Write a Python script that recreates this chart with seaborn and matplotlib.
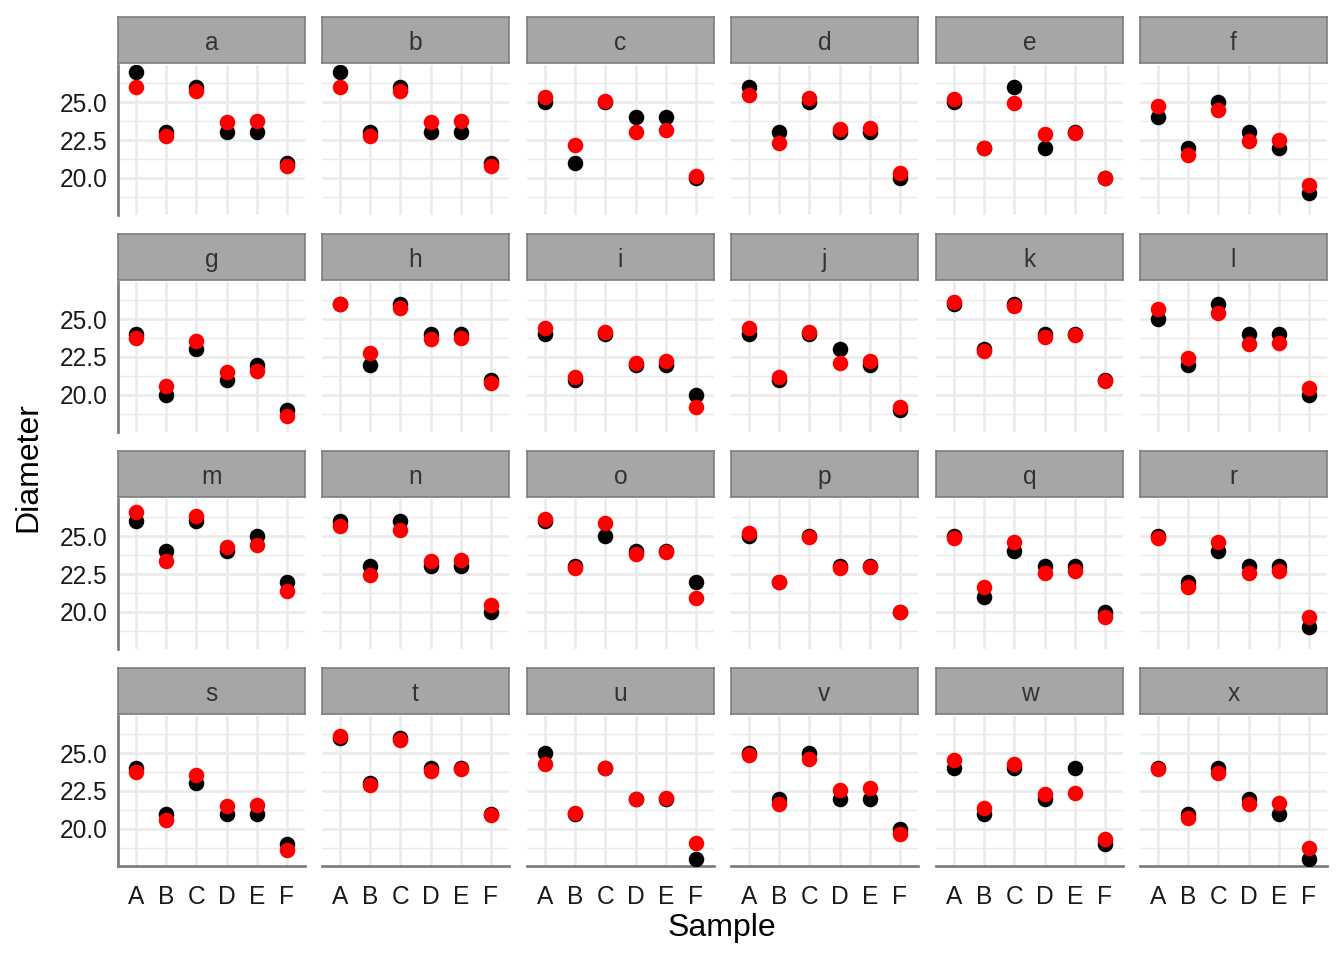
import numpy as np
import pandas as pd
import matplotlib
matplotlib.use('Agg')
import matplotlib.pyplot as plt
import seaborn as sns

# ── Data ─────────────────────────────────────────────────────────────────────
plates  = list('abcdefghijklmnopqrstuvwx')
samples = ['A', 'B', 'C', 'D', 'E', 'F']

# observed diameter per plate (samples A..F)
observed = [
    [27, 23, 26, 23, 23, 21], [27, 23, 26, 23, 23, 21], [25, 21, 25, 24, 24, 20],
    [26, 23, 25, 23, 23, 20], [25, 22, 26, 22, 23, 20], [24, 22, 25, 23, 22, 19],
    [24, 20, 23, 21, 22, 19], [26, 22, 26, 24, 24, 21], [24, 21, 24, 22, 22, 20],
    [24, 21, 24, 23, 22, 19], [26, 23, 26, 24, 24, 21], [25, 22, 26, 24, 24, 20],
    [26, 24, 26, 24, 25, 22], [26, 23, 26, 23, 23, 20], [26, 23, 25, 24, 24, 22],
    [25, 22, 25, 23, 23, 20], [25, 21, 24, 23, 23, 20], [25, 22, 24, 23, 23, 19],
    [24, 21, 23, 21, 21, 19], [26, 23, 26, 24, 24, 21], [25, 21, 24, 22, 22, 18],
    [25, 22, 25, 22, 22, 20], [24, 21, 24, 22, 24, 19], [24, 21, 24, 22, 21, 18],
]

# fitted values (red)
fitted = [
    [25.97, 22.77, 25.72, 23.68, 23.77, 20.77], [25.97, 22.77, 25.72, 23.68, 23.77, 20.77],
    [25.34, 22.14, 25.09, 23.05, 23.14, 20.14], [25.50, 22.30, 25.25, 23.21, 23.30, 20.30],
    [25.19, 21.99, 24.94, 22.90, 22.99, 19.99], [24.72, 21.52, 24.47, 22.43, 22.52, 19.52],
    [23.78, 20.58, 23.53, 21.49, 21.58, 18.58], [25.97, 22.77, 25.72, 23.68, 23.77, 20.77],
    [24.41, 21.21, 24.16, 22.12, 22.21, 19.21], [24.41, 21.21, 24.16, 22.12, 22.21, 19.21],
    [26.12, 22.92, 25.87, 23.83, 23.92, 20.92], [25.65, 22.45, 25.40, 23.36, 23.45, 20.45],
    [26.59, 23.39, 26.34, 24.30, 24.39, 21.39], [25.65, 22.45, 25.40, 23.36, 23.45, 20.45],
    [26.12, 22.92, 25.87, 23.83, 23.92, 20.92], [25.19, 21.99, 24.94, 22.90, 22.99, 19.99],
    [24.87, 21.67, 24.62, 22.58, 22.67, 19.67], [24.87, 21.67, 24.62, 22.58, 22.67, 19.67],
    [23.78, 20.58, 23.53, 21.49, 21.58, 18.58], [26.12, 22.92, 25.87, 23.83, 23.92, 20.92],
    [24.25, 21.05, 24.00, 21.96, 22.05, 19.05], [24.87, 21.67, 24.62, 22.58, 22.67, 19.67],
    [24.56, 21.36, 24.31, 22.27, 22.36, 19.36], [23.94, 20.74, 23.69, 21.65, 21.74, 18.74],
]

y_ticks  = [20.0, 22.5, 25.0]
y_minor  = [18.75, 21.25, 23.75, 26.25]

rows = []
for p, obs, fit in zip(plates, observed, fitted):
    for s, o, f in zip(samples, obs, fit):
        rows.append({'plate': p, 'sample': s, 'diameter': o, 'fitted': f})
df = pd.DataFrame(rows)

# ── Layout (pixels in a 1344x960 canvas) ─────────────────────────────────────
W, H = 1344, 960
col_x  = [118, 322, 527, 731, 936, 1140]
col_w  = 187
row_y  = [17, 234, 451, 668]     # strip tops
strip_h = 46
panel_h = 150

GRID  = '#EBEBEB'
AXIS  = '#7a7a7a'
FONT  = ['Liberation Sans', 'DejaVu Sans']

sns.set_theme(style='white')
plt.rcParams['font.family'] = FONT

fig = plt.figure(figsize=(W / 192, H / 192), dpi=192)


def box(x, y, w, h):
    return [x / W, 1 - (y + h) / H, w / W, h / H]


for i, p in enumerate(plates):
    r, c = divmod(i, 6)
    x0 = col_x[c]
    ys = row_y[r]

    # strip
    sax = fig.add_axes(box(x0, ys, col_w, strip_h))
    sax.set_facecolor('#A6A6A6')
    sax.set_xticks([]); sax.set_yticks([])
    for sp in sax.spines.values():
        sp.set_visible(True)
        sp.set_color(AXIS)
        sp.set_linewidth(0.6)
    sax.text(0.5, 0.44, p, ha='center', va='center', fontsize=9.2,
             color='#333333', transform=sax.transAxes)

    # panel
    ax = fig.add_axes(box(x0, ys + strip_h + 2, col_w, panel_h))
    sub = df[df['plate'] == p]
    sns.scatterplot(data=sub, x='sample', y='diameter', ax=ax, color='black',
                    s=34, linewidth=0, zorder=3)
    sns.scatterplot(data=sub, x='sample', y='fitted', ax=ax, color='red',
                    s=34, linewidth=0, zorder=4)
    ax.set_xlim(-0.6, 5.6)
    ax.set_ylim(17.55, 27.45)
    ax.set_yticks(y_ticks)
    ax.set_yticks(y_minor, minor=True)
    ax.set_axisbelow(True)
    ax.grid(True, which='major', color=GRID, linewidth=1.0)
    ax.grid(True, which='minor', axis='y', color=GRID, linewidth=0.55)
    ax.tick_params(which='both', length=0, labelsize=9.2, labelcolor='#1a1a1a')
    ax.tick_params(axis='x', pad=7)
    ax.tick_params(axis='y', pad=4)
    ax.set_xlabel(''); ax.set_ylabel('')
    for sp in ax.spines.values():
        sp.set_visible(False)
    if c == 0:
        ax.spines['left'].set_visible(True)
        ax.spines['left'].set_color(AXIS)
        ax.spines['left'].set_linewidth(1.0)
        ax.set_yticklabels([f'{t:.1f}' for t in y_ticks])
    else:
        ax.set_yticklabels([])
    if r == 3:
        ax.spines['bottom'].set_visible(True)
        ax.spines['bottom'].set_color(AXIS)
        ax.spines['bottom'].set_linewidth(1.0)
    else:
        ax.set_xticklabels([])

fig.text(28 / W, 1 - 467 / H, 'Diameter', rotation=90, ha='center', va='center',
         fontsize=12, color='black')
fig.text(722 / W, 1 - 928 / H, 'Sample', ha='center', va='center',
         fontsize=12, color='black')

fig.savefig('out.png', dpi=192)
